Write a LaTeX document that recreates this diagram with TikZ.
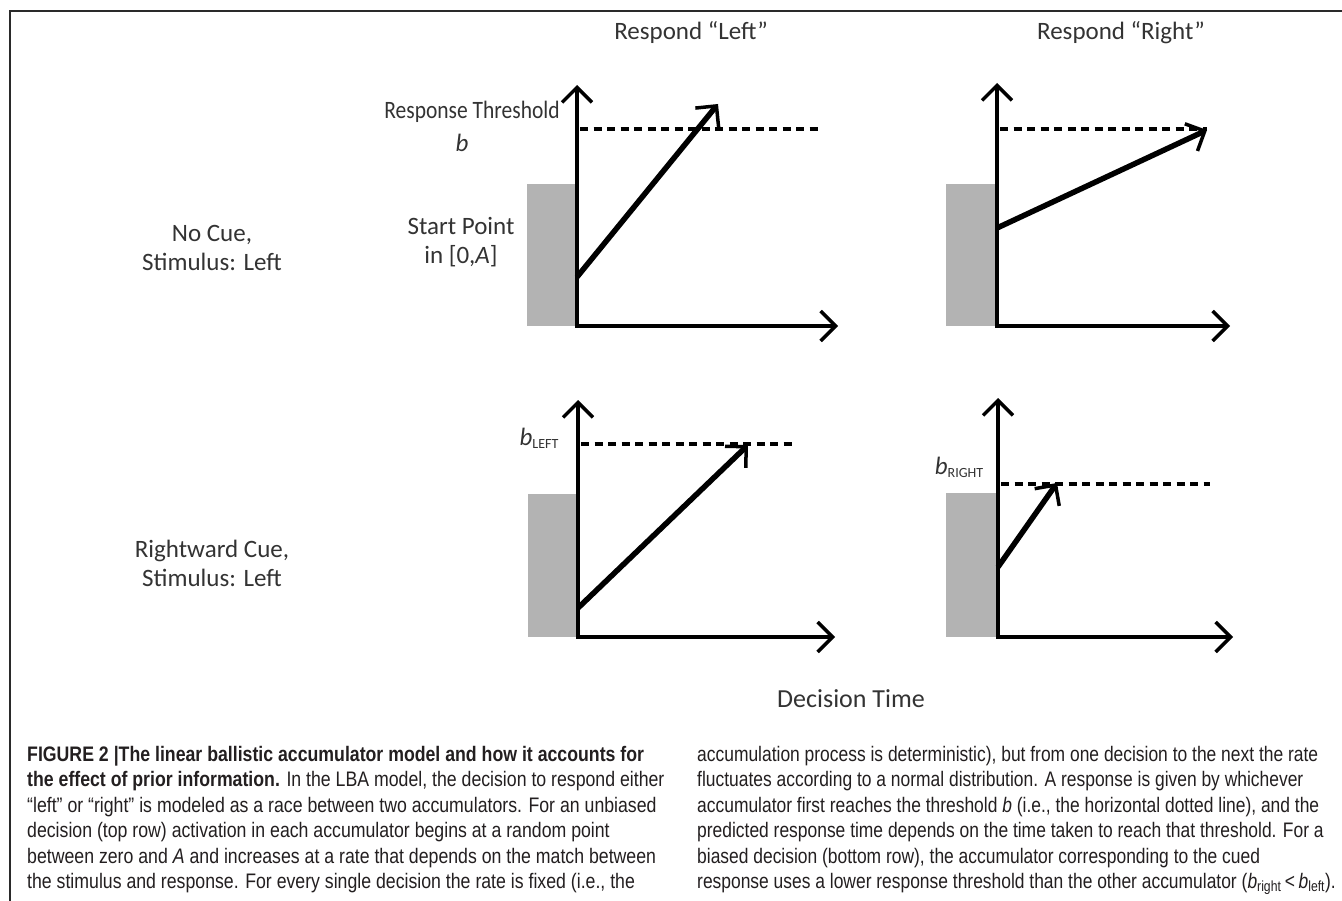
\documentclass[tikz,border=0pt]{standalone}
\usepackage{fontspec}
\usetikzlibrary{arrows.meta}
\newfontfamily\lblfont{Carlito}
\newfontfamily\capfont[FakeStretch=0.843]{Liberation Sans}
\newfontfamily\capfontR[FakeStretch=0.83]{Liberation Sans}
\definecolor{lblgray}{HTML}{333333}
\definecolor{startgray}{HTML}{B3B3B3}
\definecolor{capblack}{HTML}{231F20}
\definecolor{framegray}{HTML}{2A2A2A}
\tikzset{
  tipstyle/.tip={Straight Barb[length=15pt,width=30pt,line width=3.5pt]},
  axisline/.style={line width=4pt, draw=black, tipstyle-tipstyle},
  accum/.style={line width=5.5pt, draw=black, -tipstyle},
  thresh/.style={line width=4pt, draw=black, dash pattern=on 8pt off 5.5pt},
  startbox/.style={fill=startgray, draw=none},
  lbl/.style={font=\lblfont\fontsize{25}{29}\selectfont, text=lblgray, align=center, inner sep=0pt},
  captxt/.style={font=\capfont\fontsize{21}{25}\selectfont, text=capblack, anchor=base west, inner sep=0pt},
  captxtR/.style={captxt, font=\capfontR\fontsize{21}{25}\selectfont},
  frameline/.style={line width=2pt, draw=framegray},
}
\newcommand{\lowsub}[1]{\raisebox{-3pt}{\upshape\fontsize{14}{14}\selectfont #1}}
\begin{document}
\begin{tikzpicture}[x=1pt,y=-1pt]
\useasboundingbox (0,0) rectangle (1342,901);
\fill[white] (0,0) rectangle (1342,901);
% frame
\coordinate (fTL) at (9.5,11.5);
\coordinate (fTR) at (1342,11.5);
\coordinate (fBL) at (9.5,901);
\draw[frameline] (fTR) -- (fTL) -- (fBL);

% headings
\node[lbl] (hdL) at (691,33) {Respond “Left”};
\node[lbl] (hdR) at (1121,33) {Respond “Right”};
\node[lbl] (row1) at (212,248) {No Cue,\\Stimulus: Left};
\node[lbl] (row2) at (212,563) {Rightward Cue,\\Stimulus: Left};
\node[lbl, font=\lblfont\fontsize{26}{30}\selectfont] (dtime) at (851,699) {Decision Time};

% ---------- panel 1 ----------
\fill[startbox] (527,184) rectangle (576,326);
\coordinate (O1) at (577,326);
\coordinate (Y1) at (577,85);
\coordinate (X1) at (838,326);
\coordinate (D1a) at (580,129);
\coordinate (D1b) at (820,129);
\coordinate (S1) at (577,277);
\coordinate (T1) at (718,104);
\draw[thresh] (D1a) -- (D1b);
\draw[axisline] (Y1) -- (O1) -- (X1);
\draw[accum] (S1) -- (T1);
\node[lbl] (rthr) at (472,112) {\scalebox{0.86}[1]{Response Threshold}};
\node[lbl] (bsym) at (462,143) {\itshape b};
\node[lbl] (spt) at (461,242) {Start Point\\in [0,\textit{A}]};

% ---------- panel 2 ----------
\fill[startbox] (946,184) rectangle (996,326);
\coordinate (O2) at (997,326);
\coordinate (Y2) at (997,83);
\coordinate (X2) at (1230,326);
\coordinate (D2a) at (1000,129);
\coordinate (D2b) at (1207,129);
\coordinate (S2) at (997,228);
\coordinate (T2) at (1207,130);
\draw[thresh] (D2a) -- (D2b);
\draw[axisline] (Y2) -- (O2) -- (X2);
\draw[accum] (S2) -- (T2);

% ---------- panel 3 ----------
\fill[startbox] (528,494) rectangle (577,637);
\coordinate (O3) at (578,637);
\coordinate (Y3) at (578,400);
\coordinate (X3) at (835,637);
\coordinate (D3a) at (581,444);
\coordinate (D3b) at (793,444);
\coordinate (S3) at (578,608);
\coordinate (T3) at (748,445);
\draw[thresh] (D3a) -- (D3b);
\draw[axisline] (Y3) -- (O3) -- (X3);
\draw[accum] (S3) -- (T3);
\node[lbl, anchor=base] (bL) at (539,445) {\itshape b\lowsub{LEFT}};

% ---------- panel 4 ----------
\fill[startbox] (946,493) rectangle (997,637);
\coordinate (O4) at (998,637);
\coordinate (Y4) at (998,398);
\coordinate (X4) at (1233,637);
\coordinate (D4a) at (1001,484);
\coordinate (D4b) at (1210,484);
\coordinate (S4) at (998,567);
\coordinate (T4) at (1057,483);
\draw[thresh] (D4a) -- (D4b);
\draw[axisline] (Y4) -- (O4) -- (X4);
\draw[accum] (S4) -- (T4);
\node[lbl, anchor=base] (bR) at (959,474) {\itshape b\lowsub{RIGHT}};

% ---------- caption ----------
\node[captxt] (cL1) at (27,761) {\textbf{FIGURE 2 |The linear ballistic accumulator model and how it accounts for}};
\node[captxt] (cL2) at (27,786) {\textbf{the effect of prior information.} In the LBA model, the decision to respond either};
\node[captxt] (cL3) at (27,812) {“left” or “right” is modeled as a race between two accumulators. For an unbiased};
\node[captxt] (cL4) at (27,837) {decision (top row) activation in each accumulator begins at a random point};
\node[captxt] (cL5) at (27,863) {between zero and \textit{A} and increases at a rate that depends on the match between};
\node[captxt] (cL6) at (27,888) {the stimulus and response. For every single decision the rate is fixed (i.e., the};
\node[captxtR] (cR1) at (697,761) {accumulation process is deterministic), but from one decision to the next the rate};
\node[captxtR] (cR2) at (697,786) {fluctuates according to a normal distribution. A response is given by whichever};
\node[captxtR] (cR3) at (697,812) {accumulator first reaches the threshold \textit{b} (i.e., the horizontal dotted line), and the};
\node[captxtR] (cR4) at (697,837) {predicted response time depends on the time taken to reach that threshold. For a};
\node[captxtR] (cR5) at (697,863) {biased decision (bottom row), the accumulator corresponding to the cued};
\node[captxtR] (cR6) at (697,888) {response uses a lower response threshold than the other accumulator (\textit{b}\textsubscript{right}\,<\,\textit{b}\textsubscript{left}).};
\end{tikzpicture}
\end{document}
